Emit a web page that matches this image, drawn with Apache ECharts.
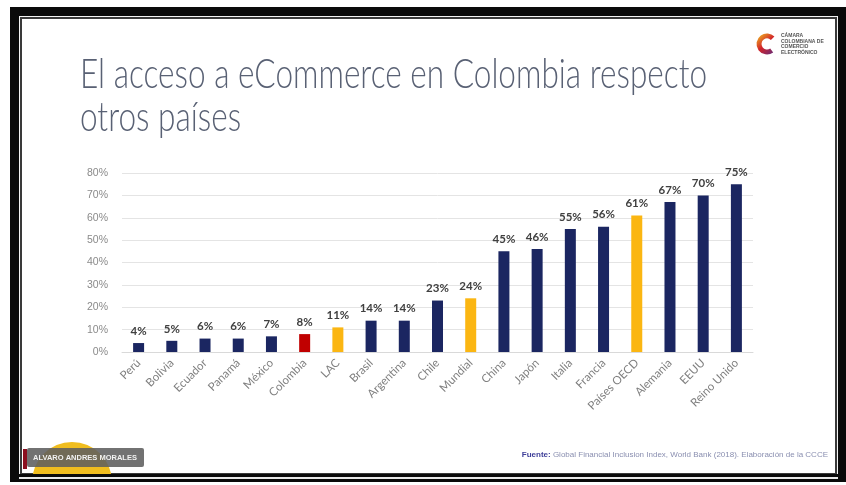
<!DOCTYPE html>
<html>
<head>
<meta charset="utf-8">
<script src="https://cdn.jsdelivr.net/npm/echarts@6/dist/echarts.min.js"></script>
<style>
  html, body { margin: 0; padding: 0; background: #ffffff; }
  #chart { width: 846px; height: 485px; }
</style>
</head>
<body>
<div id="chart"></div>
<script>
// Share of adults who bought online, by country / region
const categories = ['Perú', 'Bolivia', 'Ecuador', 'Panamá', 'México', 'Colombia', 'LAC', 'Brasil',
  'Argentina', 'Chile', 'Mundial', 'China', 'Japón', 'Italia', 'Francia', 'Países OECD',
  'Alemania', 'EEUU', 'Reino Unido'];
const values = [4, 5, 6, 6, 7, 8, 11, 14, 14, 23, 24, 45, 46, 55, 56, 61, 67, 70, 75];
// bar role: 'c' country, 'col' Colombia, 'agg' regional aggregate
const roles = ['c', 'c', 'c', 'c', 'c', 'col', 'agg', 'c', 'c', 'c', 'agg', 'c', 'c', 'c', 'c', 'agg', 'c', 'c', 'c'];
const yTicks = [0, 10, 20, 30, 40, 50, 60, 70, 80];

const titleLines = ['El acceso a eCommerce en Colombia respecto', 'otros países'];
const sourceLabel = 'Fuente:';
const sourceText = 'Global Financial Inclusion Index, World Bank (2018). Elaboración de la CCCE';
const presenter = 'ALVARO ANDRES MORALES';

const roleColor = { c: '#1b2661', col: '#c00000', agg: '#fbb612' };

const chart = echarts.init(document.getElementById('chart'), null, { renderer: 'canvas' });

const barData = values.map((v, i) => ({ value: v, itemStyle: { color: roleColor[roles[i]] } }));

const narrow = 'Liberation Sans Narrow, Liberation Sans';

const graphics = [
  // slide frame
  { type: 'rect', z: -10, silent: true, shape: { x: 10, y: 7, width: 836, height: 475 }, style: { fill: '#0a0a0a' } },
  { type: 'rect', z: -9, silent: true, shape: { x: 19, y: 16, width: 819, height: 461 }, style: { fill: '#f4f4f4' } },
  { type: 'rect', z: -8, silent: true, shape: { x: 21, y: 18, width: 815, height: 456 }, style: { fill: '#ffffff', stroke: '#3a3a3a', lineWidth: 2 } },
  // title
  { type: 'text', z: 5, silent: true, x: 80, y: 53, scaleX: 0.752,
    style: { text: titleLines[0], fontFamily: 'Lato', fontWeight: 300, fontSize: 42, fill: '#596174', textVerticalAlign: 'top' } },
  { type: 'text', z: 5, silent: true, x: 80, y: 96, scaleX: 0.752,
    style: { text: titleLines[1], fontFamily: 'Lato', fontWeight: 300, fontSize: 42, fill: '#596174', textVerticalAlign: 'top' } },
  // logo mark
  { type: 'arc', z: 5, silent: true, shape: { cx: 767, cy: 44, r: 8, startAngle: Math.PI * 0.3, endAngle: Math.PI * 1.75 },
    style: { fill: null, lineWidth: 5,
      stroke: new echarts.graphic.LinearGradient(0, 0, 1, 1, [
        { offset: 0, color: '#f2c81e' }, { offset: 0.5, color: '#d2232a' }, { offset: 1, color: '#5a2d82' }]) } },
  { type: 'text', z: 5, silent: true, x: 781, y: 33,
    style: { text: 'CÁMARA\nCOLOMBIANA DE\nCOMERCIO\nELECTRÓNICO', fontFamily: narrow, fontSize: 5, fontWeight: 'bold', lineHeight: 5.5, fill: '#555555' } },
  // source note
  { type: 'text', z: 5, silent: true, x: 828, y: 455,
    style: { text: '{b|' + sourceLabel + '} ' + sourceText, align: 'right', verticalAlign: 'middle',
      fontFamily: narrow, fontSize: 8, fill: '#8a8fb0',
      rich: { b: { fontWeight: 'bold', fill: '#3f3f99', fontSize: 8, fontFamily: narrow } } } },
  // presenter tag
  { type: 'circle', z: 2, silent: true, shape: { cx: 72, cy: 482, r: 40 }, style: { fill: '#f0bd1e' } },
  { type: 'rect', z: 3, silent: true, shape: { x: 23, y: 449, width: 4, height: 20 }, style: { fill: '#8c1020' } },
  { type: 'rect', z: 3, silent: true, shape: { x: 27, y: 448, width: 117, height: 19, r: 2 }, style: { fill: 'rgba(95,95,95,0.88)' } },
  { type: 'text', z: 4, silent: true, x: 85, y: 458,
    style: { text: presenter, align: 'center', verticalAlign: 'middle', fontFamily: narrow, fontSize: 7.5, fontWeight: 'bold', fill: '#f2f2f2' } },
  // bottom edge of the frame drawn above the tag circle
  { type: 'rect', z: 6, silent: true, shape: { x: 10, y: 474, width: 836, height: 8 }, style: { fill: '#0a0a0a' } },
  { type: 'rect', z: 7, silent: true, shape: { x: 19, y: 477, width: 819, height: 2 }, style: { fill: '#e8e8e8' } },
  { type: 'rect', z: 7, silent: true, shape: { x: 0, y: 482, width: 846, height: 3 }, style: { fill: '#ffffff' } }
];

chart.setOption({
  animation: false,
  backgroundColor: 'transparent',
  graphic: graphics,
  grid: { left: 122, right: 93, top: 173, bottom: 133, containLabel: false },
  xAxis: {
    type: 'category',
    data: categories,
    axisTick: { show: false },
    axisLine: { show: true, lineStyle: { color: '#d9d9d9', width: 1 } },
    axisLabel: { rotate: 45, interval: 0, margin: 9, color: '#7f7f7f', fontSize: 11.5, fontFamily: 'Lato' }
  },
  yAxis: {
    type: 'value',
    min: yTicks[0],
    max: yTicks[yTicks.length - 1],
    interval: yTicks[1] - yTicks[0],
    axisLine: { show: false },
    axisTick: { show: false },
    splitLine: { lineStyle: { color: '#e4e4e4', width: 1 } },
    axisLabel: { formatter: '{value}%', color: '#8a8a8a', fontSize: 10.5, margin: 14, fontFamily: narrow }
  },
  series: [{
    type: 'bar',
    data: barData,
    barWidth: 11,
    label: {
      show: true,
      position: 'top',
      distance: 6,
      formatter: '{c}%',
      color: '#404040',
      fontWeight: 'bold',
      fontSize: 11.5,
      fontFamily: 'Lato'
    }
  }]
});
</script>
</body>
</html>
